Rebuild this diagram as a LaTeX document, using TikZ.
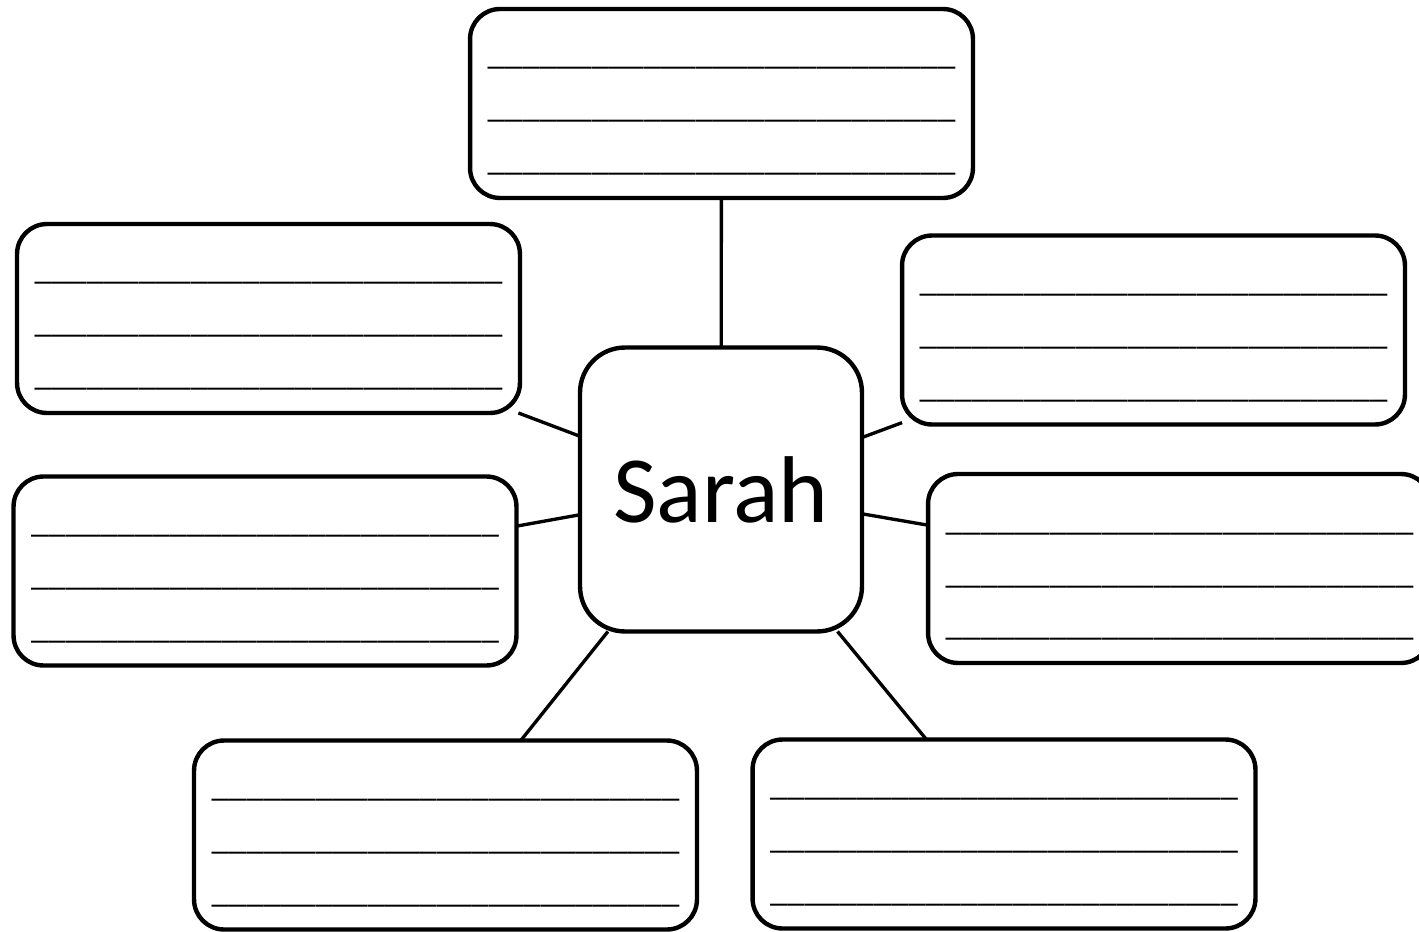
\documentclass[tikz,border=0pt]{standalone}
\usepackage{fontspec}
\setmainfont{Carlito}
\usetikzlibrary{calc}
\tikzset{
  bx/.style={rectangle, draw=black, line width=2.5pt, rounded corners=0.6cm, fill=white,
             minimum width=10.06cm, minimum height=3.78cm, inner sep=0pt, outer sep=0pt},
  % centre box with the name
  hub/.style={bx, rounded corners=0.9cm, minimum width=5.64cm, minimum height=5.68cm,
              font=\fontsize{54}{60}\selectfont},
  lk/.style={line width=1.9pt, draw=black},
  % row of underscores to write on
  ln/.style={anchor=base, inner sep=0pt, font=\fontsize{19.8}{24}\selectfont}
}
\newcommand{\blankrow}{\_\_\_\_\_\_\_\_\_\_\_\_\_\_\_\_\_\_\_\_\_\_\_\_\_\_\_}

\begin{document}
\begin{tikzpicture}[x=0.02cm,y=-0.02cm]
    \path[fill=white, use as bounding box] (0,0) rectangle (1419,932);

    % ---- centre ----
    \node[hub] (sarah) at (721,489.5) {Sarah};

    % ---- boxes round it ----
    \node[bx] (top) at (721.5,103.5) {};
    \node[bx] (lt)  at (268.5,318.5) {};
    \node[bx] (lb)  at (265,571)     {};
    \node[bx] (rt)  at (1153.5,330)  {};
    \node[bx] (rb)  at (1179.5,568.5) {};
    \node[bx] (bl)  at (445.5,835)   {};
    \node[bx] (br)  at (1004,834)    {};

    % lines to write on
    \foreach \b in {top,lt,lb,rt,rb,bl,br}
      \foreach \dy [count=\i] in {-38.5,14.5,67}
        \node[ln] (\b-l\i) at ($(\b.center)+(0,\dy)$) {\blankrow};

    % ---- connectors ----
    \foreach \b in {top,lt,lb,rt,rb,bl,br}
      \draw[lk] (sarah) -- (\b);
  \end{tikzpicture}
\end{document}
